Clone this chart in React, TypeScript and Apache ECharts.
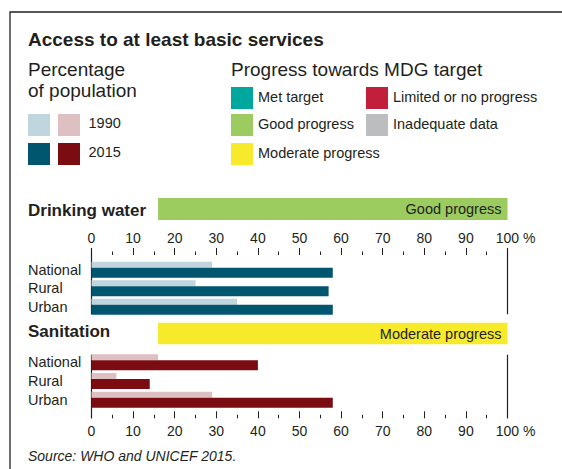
import React, { useEffect, useRef } from 'react';
import * as echarts from 'echarts';

// ---- data ----
const regions = ['National', 'Rural', 'Urban'];
const water1990 = [29, 25, 35];
const water2015 = [58, 57, 58];
const sanitation1990 = [16, 6, 29];
const sanitation2015 = [40, 14, 58];
const years = ['1990', '2015'];
const waterColors = ['#c0d6de', '#00566e'];
const sanitationColors = ['#dfc0c2', '#7b0d12'];
const progressLabels = ['Met target', 'Limited or no progress', 'Good progress', 'Inadequate data', 'Moderate progress'];
const progressColors = ['#00a79d', '#c2203a', '#9ccb5f', '#bcbdbf', '#f6ea2b'];
const sectionTitles = ['Drinking water', 'Sanitation'];
const sectionProgress = ['Good progress', 'Moderate progress'];
const progressStart = [16, 16];
const progressEnd = [100, 100];
const axisMin = 0;
const axisMax = 100;
const axisInterval = 10;

const FONT = "'Liberation Sans', Arial, Helvetica, sans-serif";
const INK = '#231f20';
const L = 91.5;
const R = 54.5;

function buildOption() {
  const tickCount = (axisMax - axisMin) / axisInterval + 1;
  const splitColors: string[] = [];
  for (let i = 0; i < tickCount; i++) splitColors.push(i === 0 || i === tickCount - 1 ? INK : 'rgba(0,0,0,0)');

  const labelFmt = (v: number) => (v === axisMax ? `{p|${v} %}` : String(v));
  const tickAxis = (gridIndex: number, position: string, offset: number, inside: boolean, margin: number) => ({
    type: 'value', gridIndex, position, offset, min: axisMin, max: axisMax, interval: axisInterval,
    axisLine: { show: false },
    axisTick: { show: true, inside, length: 7, lineStyle: { color: INK, width: 1 } },
    minorTick: { show: true, splitNumber: 2, length: 3.5, lineStyle: { color: INK, width: 1 } },
    splitLine: { show: false },
    minorSplitLine: { show: false },
    axisLabel: {
      show: true, margin, color: INK, fontSize: 14, fontFamily: FONT, interval: 0,
      formatter: labelFmt,
      rich: { p: { padding: [0, 0, 0, 16], fontSize: 14, fontFamily: FONT, color: INK } },
    },
  });
  const lineAxis = (gridIndex: number) => ({
    type: 'value', gridIndex, min: axisMin, max: axisMax, interval: axisInterval,
    axisLine: { show: false }, axisTick: { show: false }, axisLabel: { show: false },
    splitLine: { show: true, lineStyle: { color: splitColors, width: 1.2 } },
  });
  const hiddenX = (gridIndex: number) => ({ type: 'value', gridIndex, min: axisMin, max: axisMax, show: false });
  const catAxis = (gridIndex: number) => ({
    type: 'category', gridIndex, data: regions, inverse: true,
    axisLine: { show: false }, axisTick: { show: false }, splitLine: { show: false },
    axisLabel: {
      interval: 0, hideOverlap: false, margin: L - 28, align: 'left', fontSize: 14.5, color: INK,
      fontFamily: FONT, padding: [0, 0, 3, 0],
    },
  });

  const banner = (axisIndex: number, section: number) => {
    const color = progressColors[progressLabels.indexOf(sectionProgress[section])];
    return [
      {
        type: 'bar', xAxisIndex: axisIndex, yAxisIndex: axisIndex, stack: 'b' + section, silent: true,
        data: [progressStart[section]], barWidth: '100%', itemStyle: { color: 'rgba(0,0,0,0)' },
      },
      {
        type: 'bar', xAxisIndex: axisIndex, yAxisIndex: axisIndex, stack: 'b' + section, silent: true,
        data: [progressEnd[section] - progressStart[section]], barWidth: '100%', itemStyle: { color },
        label: {
          show: true, position: 'insideRight', distance: 6, formatter: sectionProgress[section],
          color: INK, fontSize: 14.5, fontFamily: FONT,
        },
      },
    ];
  };

  const bars = (axisIndex: number, d1990: number[], d2015: number[], colors: string[]) => [
    { type: 'bar', name: years[0], xAxisIndex: axisIndex, yAxisIndex: axisIndex, data: d1990, barWidth: 6, barGap: '0%', itemStyle: { color: colors[0] }, silent: true },
    { type: 'bar', name: years[1], xAxisIndex: axisIndex, yAxisIndex: axisIndex, data: d2015, barWidth: 10, barGap: '0%', itemStyle: { color: colors[1] }, silent: true },
  ];

  const txt = (text: string, x: number, y: number, size: number, extra: any = {}) => ({
    type: 'text', x, y, silent: true,
    style: { text, fill: INK, fontSize: size, fontFamily: FONT, verticalAlign: 'middle', align: 'left', ...extra },
  });
  const rect = (x: number, y: number, fill: string) => ({
    type: 'rect', silent: true, shape: { x, y, width: 22, height: 22 }, style: { fill },
  });

  const elements: any[] = [
    { type: 'polyline', silent: true, shape: { points: [[10, 469], [10, 12], [562, 12]] }, style: { stroke: INK, lineWidth: 1.3, fill: null } },
    txt('Access to at least basic services', 28, 39.2, 19, { fontWeight: 'bold' }),
    txt('Percentage', 28, 69.5, 19),
    txt('of population', 28, 90.2, 19),
    txt('Progress towards MDG target', 231, 69.5, 19),
    rect(28, 114, waterColors[0]), rect(58, 114, sanitationColors[0]), txt(years[0], 88.5, 123, 14.5),
    rect(28, 143, waterColors[1]), rect(58, 143, sanitationColors[1]), txt(years[1], 88.5, 152, 14.5),
    txt(sectionTitles[0], 28, 210.8, 17, { fontWeight: 'bold' }),
    txt(sectionTitles[1], 28, 331.4, 17, { fontWeight: 'bold' }),
    txt('Source: WHO and UNICEF 2015.', 28, 455.5, 14, { fontStyle: 'italic' }),
  ];
  const legendPos = [[231, 87], [366, 87], [231, 114], [366, 114], [231, 143]];
  progressLabels.forEach((lab, i) => {
    const [x, y] = legendPos[i];
    elements.push(rect(x, y, progressColors[i]));
    elements.push(txt(lab, x + 27, y + 9.5, 14.5));
  });

  return {
    animation: false,
    backgroundColor: '#ffffff',
    grid: [
      { left: L, right: R, top: 198, height: 22 },
      { left: L, right: R, top: 260.5, height: 55.5 },
      { left: L, right: R, top: 248.3, height: 66 },
      { left: L, right: R, top: 322.7, height: 21.6 },
      { left: L, right: R, top: 353, height: 56 },
      { left: L, right: R, top: 354.7, height: 63.6 },
    ],
    xAxis: [
      hiddenX(0),
      tickAxis(1, 'top', 5.5, false, 10),
      lineAxis(2),
      hiddenX(3),
      tickAxis(4, 'bottom', 9.3, true, 5.7),
      lineAxis(5),
    ],
    yAxis: [
      { type: 'category', gridIndex: 0, data: [''], show: false },
      catAxis(1),
      { type: 'value', gridIndex: 2, min: 0, max: 1, show: false },
      { type: 'category', gridIndex: 3, data: [''], show: false },
      catAxis(4),
      { type: 'value', gridIndex: 5, min: 0, max: 1, show: false },
    ],
    series: [
      ...banner(0, 0),
      ...bars(1, water1990, water2015, waterColors),
      ...banner(3, 1),
      ...bars(4, sanitation1990, sanitation2015, sanitationColors),
    ],
    graphic: { elements },
  };
}

export default function App() {
  const ref = useRef<HTMLDivElement>(null);
  useEffect(() => {
    if (!ref.current) return;
    const chart = echarts.init(ref.current, undefined, { renderer: 'svg', width: 562, height: 469 });
    chart.setOption(buildOption() as any);
    return () => chart.dispose();
  }, []);
  return <div ref={ref} style={{ position: 'fixed', left: 0, top: 0, width: 562, height: 469, background: '#fff' }} />;
}
